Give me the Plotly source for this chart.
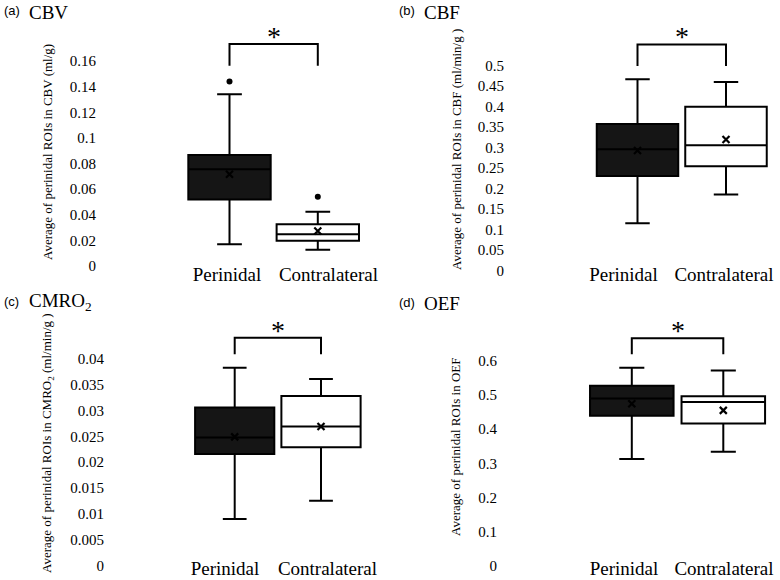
import plotly.graph_objects as go

# categorias
categories = ["Perinidal", "Contralateral"]

# (a) CBV
cbv_q1 = [0.052, 0.0198]
cbv_median = [0.0755, 0.0247]
cbv_q3 = [0.0867, 0.0325]
cbv_low = [0.017, 0.0127]
cbv_high = [0.134, 0.0424]
cbv_mean = [0.0716, 0.0273]
cbv_outliers = [[0.144], [0.054]]
cbv_bracket = [0.1564, 0.1733]
cbv_ticks = [0, 0.02, 0.04, 0.06, 0.08, 0.1, 0.12, 0.14, 0.16]

# (b) CBF
cbf_q1 = [0.231, 0.255]
cbf_median = [0.296, 0.306]
cbf_q3 = [0.358, 0.4]
cbf_low = [0.116, 0.186]
cbf_high = [0.467, 0.46]
cbf_mean = [0.293, 0.32]
cbf_outliers = [[], []]
cbf_bracket = [0.499, 0.552]
cbf_ticks = [0, 0.05, 0.1, 0.15, 0.2, 0.25, 0.3, 0.35, 0.4, 0.45, 0.5]

# (c) CMRO2
cmro2_q1 = [0.0216, 0.0229]
cmro2_median = [0.0248, 0.0269]
cmro2_q3 = [0.0306, 0.0328]
cmro2_low = [0.009, 0.0125]
cmro2_high = [0.0383, 0.0361]
cmro2_mean = [0.0249, 0.0269]
cmro2_outliers = [[], []]
cmro2_bracket = [0.0409, 0.0441]
cmro2_ticks = [0, 0.005, 0.01, 0.015, 0.02, 0.025, 0.03, 0.035, 0.04]

# (d) OEF
oef_q1 = [0.4395, 0.417]
oef_median = [0.49, 0.4795]
oef_q3 = [0.527, 0.496]
oef_low = [0.313, 0.334]
oef_high = [0.58, 0.572]
oef_mean = [0.4746, 0.455]
oef_outliers = [[], []]
oef_bracket = [0.619, 0.666]
oef_ticks = [0, 0.1, 0.2, 0.3, 0.4, 0.5, 0.6]

W, H = 780, 580
serif = "Liberation Serif"

# geometria de cada panel en pixeles: x0 = centro de la caja 0, dx = px entre cajas,
# left/right = bordes del area, y0 = pixel del cero, ppu = px por unidad, top = borde superior,
# labx = centros de las etiquetas de categoria, bw = ancho de caja, so = standoff etiquetas
panels = [
    dict(letter="(a)", name="CBV", ytitle="Average of perinidal ROIs in CBV (ml/g)",
         q1=cbv_q1, med=cbv_median, q3=cbv_q3, lo=cbv_low, hi=cbv_high, mean=cbv_mean,
         out=cbv_outliers, br=cbv_bracket, ticks=cbv_ticks,
         x0=229.5, dx=88.3, left=97, right=385, y0=266, ppu=1281, top=25,
         labx=[227, 328.5], bw=0.933, so=-5, lx=2, ly=11, tx=47, ty=152),
    dict(letter="(b)", name="CBF", ytitle="Average of perinidal ROIs in CBF (ml/min/g )",
         q1=cbf_q1, med=cbf_median, q3=cbf_q3, lo=cbf_low, hi=cbf_high, mean=cbf_mean,
         out=cbf_outliers, br=cbf_bracket, ticks=cbf_ticks,
         x0=637.5, dx=88.5, left=505, right=778, y0=270.7, ppu=410, top=25,
         labx=[623.5, 724], bw=0.921, so=-10, lx=397, ly=11, tx=457, ty=150),
    dict(letter="(c)", name="CMRO<sub>2</sub>",
         ytitle="Average of perinidal ROIs in CMRO<sub>2</sub> (ml/min/g )",
         q1=cmro2_q1, med=cmro2_median, q3=cmro2_q3, lo=cmro2_low, hi=cmro2_high,
         mean=cmro2_mean, out=cmro2_outliers, br=cmro2_bracket, ticks=cmro2_ticks,
         x0=234.7, dx=86.3, left=105, right=385, y0=565.3, ppu=5158, top=315,
         labx=[225, 327.5], bw=0.918, so=-10, lx=2, ly=301, tx=47, ty=443),
    dict(letter="(d)", name="OEF", ytitle="Average of perinidal ROIs in OEF",
         q1=oef_q1, med=oef_median, q3=oef_q3, lo=oef_low, hi=oef_high, mean=oef_mean,
         out=oef_outliers, br=oef_bracket, ticks=oef_ticks,
         x0=631.8, dx=91.5, left=498, right=778, y0=566, ppu=342, top=315,
         labx=[624, 724], bw=0.913, so=-11, lx=397, ly=302, tx=455, ty=447),
]

fills = ["#151515", "white"]

fig = go.Figure()
annotations = []
layout_axes = {}

for i, p in enumerate(panels):
    k = "" if i == 0 else str(i + 1)
    xa, ya = "x" + k, "y" + k

    for j in range(2):
        fig.add_trace(go.Box(
            x=[j], q1=[p["q1"][j]], median=[p["med"][j]], q3=[p["q3"][j]],
            lowerfence=[p["lo"][j]], upperfence=[p["hi"][j]],
            width=p["bw"], whiskerwidth=0.3, fillcolor=fills[j],
            line=dict(color="black", width=2), boxpoints=False,
            showlegend=False, hoverinfo="skip", xaxis=xa, yaxis=ya))
        if p["out"][j]:
            fig.add_trace(go.Scatter(
                x=[j] * len(p["out"][j]), y=p["out"][j], mode="markers",
                marker=dict(color="black", size=6), showlegend=False,
                hoverinfo="skip", xaxis=xa, yaxis=ya))

    fig.add_trace(go.Scatter(
        x=[0, 1], y=p["mean"], mode="markers",
        marker=dict(symbol="x-thin", size=7, line=dict(color="black", width=2.2)),
        showlegend=False, hoverinfo="skip", xaxis=xa, yaxis=ya))

    leg, top = p["br"]
    fig.add_trace(go.Scatter(
        x=[0, 0, 1, 1], y=[leg, top, top, leg], mode="lines",
        line=dict(color="black", width=2), showlegend=False,
        hoverinfo="skip", xaxis=xa, yaxis=ya))

    layout_axes["xaxis" + k] = dict(
        domain=[p["left"] / W, p["right"] / W],
        range=[(p["left"] - p["x0"]) / p["dx"], (p["right"] - p["x0"]) / p["dx"]],
        tickvals=[(c - p["x0"]) / p["dx"] for c in p["labx"]],
        ticktext=categories, ticks="", automargin=False,
        showgrid=False, zeroline=False, showline=False, anchor=ya,
        tickfont=dict(family=serif, size=19, color="black"),
        ticklabelstandoff=p["so"])
    layout_axes["yaxis" + k] = dict(
        domain=[1 - p["y0"] / H, 1 - p["top"] / H],
        range=[0, (p["y0"] - p["top"]) / p["ppu"]],
        tickvals=p["ticks"], ticks="", automargin=False,
        showgrid=False, zeroline=False, showline=False, anchor=xa,
        tickfont=dict(family=serif, size=15, color="black"))

    annotations.append(dict(
        x=0.5, y=top, xref=xa, yref=ya, text="*", showarrow=False,
        yanchor="bottom", yshift=-10,
        font=dict(family=serif, size=28, color="black")))
    annotations.append(dict(
        x=p["lx"] / W, y=1 - p["ly"] / H, xref="paper", yref="paper",
        text=p["letter"], showarrow=False, xanchor="left", yanchor="middle",
        font=dict(family="Liberation Sans", size=13, color="black")))
    annotations.append(dict(
        x=(p["lx"] + 25) / W, y=1 - (p["ly"] + 1) / H, xref="paper", yref="paper",
        text=p["name"], showarrow=False, xanchor="left", yanchor="middle",
        font=dict(family=serif, size=19, color="black")))
    annotations.append(dict(
        x=p["tx"] / W, y=1 - p["ty"] / H, xref="paper", yref="paper",
        text=p["ytitle"], showarrow=False, textangle=-90,
        xanchor="center", yanchor="middle",
        font=dict(family=serif, size=13, color="black")))

fig.update_layout(
    width=W, height=H,
    margin=dict(l=0, r=0, t=0, b=0, autoexpand=False),
    paper_bgcolor="white", plot_bgcolor="white",
    annotations=annotations,
    **layout_axes)

# sin el margen por defecto del body para que la figura ocupe la ventana
fig.write_html("out.html", config={"displayModeBar": False},
               post_script="document.body.style.margin='0';")
